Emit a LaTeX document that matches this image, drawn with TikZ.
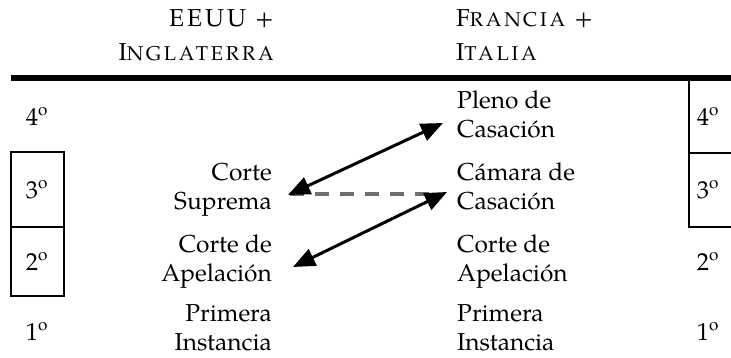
\documentclass[tikz,border=0pt]{standalone}
\usepackage{fontspec}
\setmainfont{TeX Gyre Pagella}
\usetikzlibrary{arrows.meta}

\newcommand{\versalita}[1]{{\fontsize{20}{34}\selectfont\addfontfeature{LetterSpace = 14}#1}}

\tikzset{
	tier/.style = {inner sep = 0pt, font = \fontsize{24.5}{29}\selectfont,
		execute at begin node = \strut},
	cabecera/.style = {inner sep = 0pt, font = \fontsize{24.5}{34}\selectfont\addfontfeature{LetterSpace = 12},
		execute at begin node = \strut},
	grado/.style = {inner sep = 0pt, anchor = base, font = \fontsize{24.5}{29}\selectfont},
	caja/.style = {line width = 1.5pt},
	flecha/.style = {line width = 3pt, <->},
	enlace/.style = {line width = 4pt, black!57, dash pattern = on 14pt off 11pt}
}

\begin{document}
\begin{tikzpicture}[x = 1pt, y = -1pt, > = {Triangle[length = 22pt, width = 18pt]}]

	\useasboundingbox (0, 0) rectangle (731, 357);
	\clip (0, 0) rectangle (731, 357);

	% Column headers

	\node [cabecera, anchor = north east, align = right] (eeuu) at (274, 9) {EEUU +\\I\versalita{NGLATERRA}};
	\node [cabecera, anchor = north west, align = left] (francia) at (456, 9) {F\versalita{RANCIA} +\\I\versalita{TALIA}};

	\draw [line width = 6pt] (11, 78) -- (731, 78);

	% Grade boxes

	\draw [caja] (11, 152) rectangle (64, 296);
	\draw [caja] (11, 227) -- (64, 227);
	\draw [caja] (689, 80) rectangle (745, 227);
	\draw [caja] (689, 153) -- (745, 153);

	\node [grado] (izq4) at (37, 125) {4\textsuperscript{o}};
	\node [grado] (izq3) at (37, 198) {3\textsuperscript{o}};
	\node [grado] (izq2) at (37, 270) {2\textsuperscript{o}};
	\node [grado] (izq1) at (37, 340) {1\textsuperscript{o}};

	\node [grado] (der4) at (708, 125) {4\textsuperscript{o}};
	\node [grado] (der3) at (708, 198) {3\textsuperscript{o}};
	\node [grado] (der2) at (708, 270) {2\textsuperscript{o}};
	\node [grado] (der1) at (708, 340) {1\textsuperscript{o}};

	% Courts

	\node [tier, anchor = north east, align = right] (suprema) at (272, 162.7) {Corte\\Suprema};
	\node [tier, anchor = north east, align = right] (apelizq) at (272, 234.7) {Corte de\\Apelación};
	\node [tier, anchor = north east, align = right] (primizq) at (272, 304) {Primera\\Instancia};

	\node [tier, anchor = north west, align = left] (pleno) at (457, 90.7) {Pleno de\\Casación};
	\node [tier, anchor = north west, align = left] (camara) at (457, 162.7) {Cámara de\\Casación};
	\node [tier, anchor = north west, align = left] (apelder) at (457, 234.7) {Corte de\\Apelación};
	\node [tier, anchor = north west, align = left] (primder) at (457, 304) {Primera\\Instancia};

	% Equivalences

	\draw [enlace] ([xshift = 18pt, yshift = -31.3pt] suprema.north east) -- ([xshift = -20pt, yshift = -31.3pt] camara.north west);

	\draw [flecha] ([xshift = 16pt, yshift = -32.3pt] suprema.north east) -- ([xshift = -14pt, yshift = -32.3pt] pleno.north west);
	\draw [flecha] ([xshift = 21pt, yshift = -32.3pt] apelizq.north east) -- ([xshift = -10pt, yshift = -29.3pt] camara.north west);

\end{tikzpicture}
\end{document}
